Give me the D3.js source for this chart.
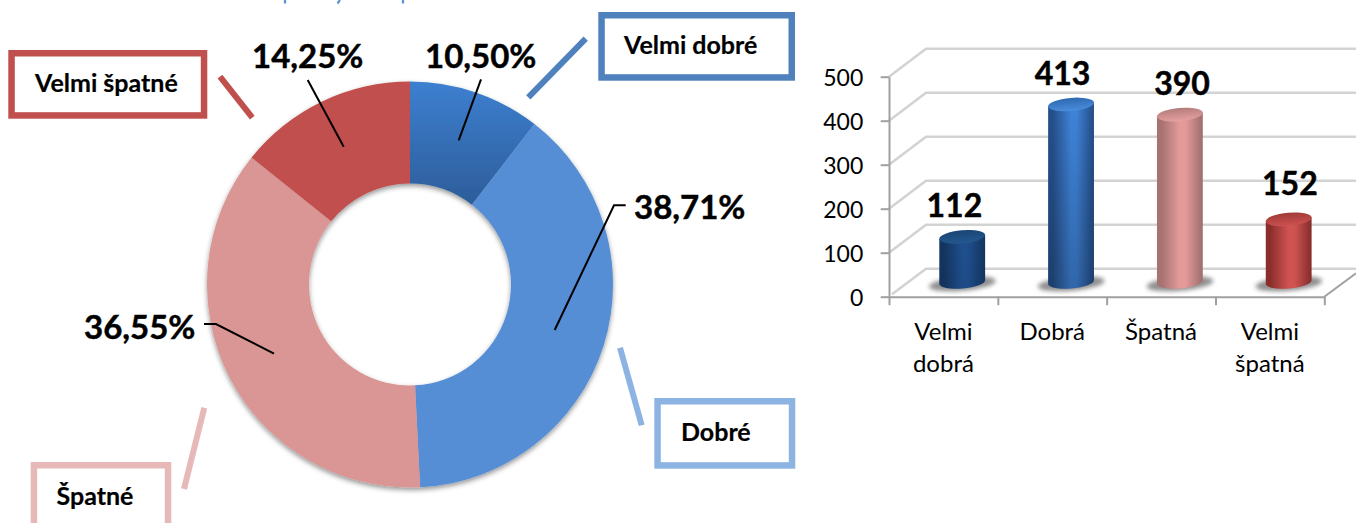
<!DOCTYPE html>
<html><head><meta charset="utf-8">
<script src="https://cdn.jsdelivr.net/npm/d3@7"></script>
<style>
html,body{margin:0;padding:0;background:#fff;overflow:hidden}
svg{display:block}
text{font-family:Lato,"Noto Sans",sans-serif;fill:#000}
.big{font-weight:700;font-size:33px;stroke:#000;stroke-width:.45px}
.val{font-weight:700;font-size:32px;stroke:#000;stroke-width:.45px}
.box{font-weight:700;font-size:25px;stroke:#000;stroke-width:.2px}
.ya .tick text{font-size:23px}
.xl .tick text{font-size:24px}
</style></head><body>
<svg id="c" width="1356" height="523"></svg>
<script>
// ---- data ----
const sliceLabels = ["Velmi dobré","Dobré","Špatné","Velmi špatné"];
const slicePct = [10.50,38.71,36.55,14.25];
const sliceText = ["10,50%","38,71%","36,55%","14,25%"];
const barCats = ["Velmi dobrá","Dobrá","Špatná","Velmi špatná"];
const barValues = [112,413,390,152];
const yTicks = [0,100,200,300,400,500];

// ---- styles and layout (not data) ----
const sliceFill = ["url(#s0)","#558ed5","#d99694","#c0504d"];
const cx=410, cy=284.5, R=203, r=101;
const boxes = [
 {x:8.3,y:50,x2:207.3,y2:118.7,c:"#c0504d",i:3,tx:35,ty:92,l:[220,76.7,252.3,117.7]},
 {x:598.3,y:12,x2:795,y2:80.7,c:"#4f81bd",i:0,tx:624,ty:54,l:[585.7,38.7,528.3,97.3]},
 {x:654.3,y:398,x2:795.3,y2:468.7,c:"#8db3e2",i:1,tx:681,ty:440.5,l:[620,347.7,641.7,425.3]},
 {x:30.7,y:462,x2:171.3,y2:532,c:"#e6b9b8",i:2,tx:56.5,ty:504.5,l:[204.3,407.7,184,489]}
];
const leaders = [
 {i:3,x:252,y:67.5,p:[[307.7,80],[343.7,146.7]]},
 {i:0,x:425,y:67.5,p:[[481,79.3],[458.7,140.3]]},
 {i:1,x:634,y:219,p:[[625.7,205.3],[614,205.3],[554.7,330]]},
 {i:2,x:84,y:339,p:[[204,324],[216,324],[274,353.7]]}
];
const titleBits = [[285,0,285,3.5],[340,0,337.5,3.5],[403,0,403,3.5]];
const labelDx = [11,10.3,21,20];
const labelDy = [19.8,19,19.7,24];
const bodies=[
 {l:"#143560",m:"#1f4f8e",r:"#143560",t0:"#1a4475",t1:"#24588f",o:.05},
 {l:"#25508c",m:"#3f83d8",r:"#234c86",t0:"#2e68b0",t1:"#4a8ede",o:.22},
 {l:"#a67272",m:"#e59a9a",r:"#9e6c6c",t0:"#b47c7c",t1:"#e6a0a0",o:0},
 {l:"#8a2e2c",m:"#cf5451",r:"#842c2a",t0:"#a03a38",t1:"#cc5250",o:0}
];

const svg=d3.select("#c");
const defs=svg.append("defs");
function grad(id,stops,x1,y1,x2,y2){
  const g=defs.append("linearGradient").attr("id",id).attr("x1",x1).attr("y1",y1).attr("x2",x2).attr("y2",y2);
  stops.forEach(s=>{const e=g.append("stop").attr("offset",s[0]).attr("stop-color",s[1]); if(s[2]!==undefined)e.attr("stop-opacity",s[2]);});
  return g;
}
grad("s0",[[0,"#3d7fd0"],[1,"#2d5d9a"]],0,82-cy,0,205-cy).attr("gradientUnits","userSpaceOnUse");
grad("vd",[[0,"#000",0],[1,"#000",1]],0,0,0,1);
const sh=defs.append("filter").attr("id","ds").attr("x","-5%").attr("y","-5%").attr("width","110%").attr("height","110%");
sh.append("feDropShadow").attr("dx",0).attr("dy",2.5).attr("stdDeviation",2.5).attr("flood-color","#000").attr("flood-opacity",0.42);
const bl=defs.append("filter").attr("id","bl").attr("x","-30%").attr("y","-60%").attr("width","160%").attr("height","220%");
bl.append("feGaussianBlur").attr("stdDeviation",2);

// title remnants clipped by the top edge
svg.append("g").selectAll("line").data(titleBits).join("line")
 .attr("x1",d=>d[0]).attr("y1",d=>d[1]).attr("x2",d=>d[2]).attr("y2",d=>d[3])
 .attr("stroke","#5b93d6").attr("stroke-width",2.2);

// ---- donut ----
const pie=d3.pie().sort(null).value(d=>d)(slicePct);
const arc=d3.arc().innerRadius(r).outerRadius(R);
svg.append("g").attr("transform",`translate(${cx},${cy})`).attr("filter","url(#ds)")
 .selectAll("path").data(pie).join("path").attr("d",arc).attr("fill",(d,i)=>sliceFill[i]);

const line=d3.line();
svg.append("g").selectAll("path").data(leaders).join("path")
 .attr("d",d=>line(d.p)).attr("fill","none").attr("stroke","#000").attr("stroke-width",2);
svg.append("g").selectAll("text").data(leaders).join("text").attr("class","big")
 .attr("x",d=>d.x).attr("y",d=>d.y).text(d=>sliceText[d.i]);

const bg=svg.append("g");
bg.selectAll("rect").data(boxes).join("rect")
 .attr("x",d=>d.x+3.25).attr("y",d=>d.y+3.25)
 .attr("width",d=>d.x2-d.x-6.5).attr("height",d=>d.y2-d.y-6.5)
 .attr("fill","#fff").attr("stroke",d=>d.c).attr("stroke-width",6.5);
bg.selectAll("line").data(boxes).join("line")
 .attr("x1",d=>d.l[0]).attr("y1",d=>d.l[1]).attr("x2",d=>d.l[2]).attr("y2",d=>d.l[3])
 .attr("stroke",d=>d.c).attr("stroke-width",6);
bg.selectAll("text").data(boxes).join("text").attr("class","box")
 .attr("x",d=>d.tx).attr("y",d=>d.ty).text(d=>sliceLabels[d.i]);

// ---- 3D cylinder chart ----
const axL=889, axR=1324.3, y0=296.7, y500=76.7, depX=37, depY=28;
const x=d3.scaleBand().domain(barCats).range([axL,axR]);
const y=d3.scaleLinear().domain([0,500]).range([y0,y500]);

const g=svg.append("g");
g.append("g").selectAll("path").data(yTicks).join("path")
 .attr("d",d=>line([[axL+(d===0?3:0),y(d)-(d===0?2.5:0)],[axL+depX,y(d)-depY],[1356,y(d)-depY]]))
 .attr("fill","none").attr("stroke","#d3d3d3").attr("stroke-width",2.6);
g.append("path").attr("d",line([[axR,y0],[1356,y0-23.5]])).attr("fill","none").attr("stroke","#a0a0a0").attr("stroke-width",2);

const ya=g.append("g").attr("class","ya").attr("transform",`translate(${axL},0)`)
 .call(d3.axisLeft(y).tickValues(yTicks).tickSize(8.3).tickPadding(17.4).tickSizeOuter(0));
ya.selectAll("text").attr("dy","0.40em");
const edges=d3.scaleLinear().domain([0,4]).range([axL,axR]);
g.append("g").attr("transform",`translate(0,${y0})`)
 .call(d3.axisBottom(edges).tickValues([0,1,2,3,4]).tickSize(8.5).tickFormat("").tickSizeOuter(0));
g.selectAll(".domain,.tick line").attr("stroke","#a0a0a0").attr("stroke-width",2);
const xl=g.append("g").attr("class","xl").attr("transform",`translate(0,${y0})`)
 .call(d3.axisBottom(x).tickSize(0).tickPadding(0));
xl.select(".domain").remove();
xl.selectAll("text").each(function(d){
  const t=d3.select(this).text(null).attr("y",0).attr("dy",0);
  d.split(" ").forEach((w,i)=>t.append("tspan").attr("x",0).attr("y",43.3+i*31.7).text(w));
});

// cylinders
barCats.forEach((c,i)=>{
  const b=bodies[i];
  grad("b"+i,[[0,b.l],[.1,b.l],[.5,b.m],[.62,b.m],[1,b.r]],0,0,1,0);
  grad("t"+i,[[0,b.t0],[1,b.t1]],0,0,0,1);
});
const rx=23, ry=6.6, tilt=-5, ddx=rx*Math.cos(tilt*Math.PI/180), ddy=rx*Math.sin(tilt*Math.PI/180);
const baseY=y0-14.7, liftY=10.5, shift=18.8;
const xc=i=>x(barCats[i])+x.bandwidth()/2+shift;
const bodyPath=(d,i)=>{
  const c=xc(i), t=y(d)-liftY;
  return `M${c-ddx},${t-ddy}L${c+ddx},${t+ddy}L${c+ddx},${baseY+ddy}A${rx},${ry} ${tilt} 0 1 ${c-ddx},${baseY-ddy}Z`;
};
const bars=g.append("g").selectAll("g").data(barValues).join("g");
bars.append("ellipse").attr("cx",(d,i)=>xc(i)).attr("cy",baseY+1.8).attr("rx",33.5).attr("ry",7)
 .attr("transform",(d,i)=>`rotate(${tilt} ${xc(i)} ${baseY})`)
 .attr("fill","#6a6a6a").attr("opacity",.75).attr("filter","url(#bl)");
bars.append("path").attr("fill",(d,i)=>`url(#b${i})`).attr("d",bodyPath);
bars.append("path").attr("fill","url(#vd)").attr("opacity",(d,i)=>bodies[i].o).attr("d",bodyPath);
bars.append("ellipse").attr("fill",(d,i)=>`url(#t${i})`)
 .attr("cx",(d,i)=>xc(i)).attr("cy",d=>y(d)-liftY).attr("rx",rx).attr("ry",ry)
 .attr("transform",(d,i)=>`rotate(${tilt} ${xc(i)} ${y(d)-liftY})`);
bars.append("text").attr("class","val").attr("text-anchor","middle")
 .attr("x",(d,i)=>x(barCats[i])+x.bandwidth()/2+labelDx[i])
 .attr("y",(d,i)=>y(d)-liftY-labelDy[i]).text(d=>d);
</script>
</body></html>
